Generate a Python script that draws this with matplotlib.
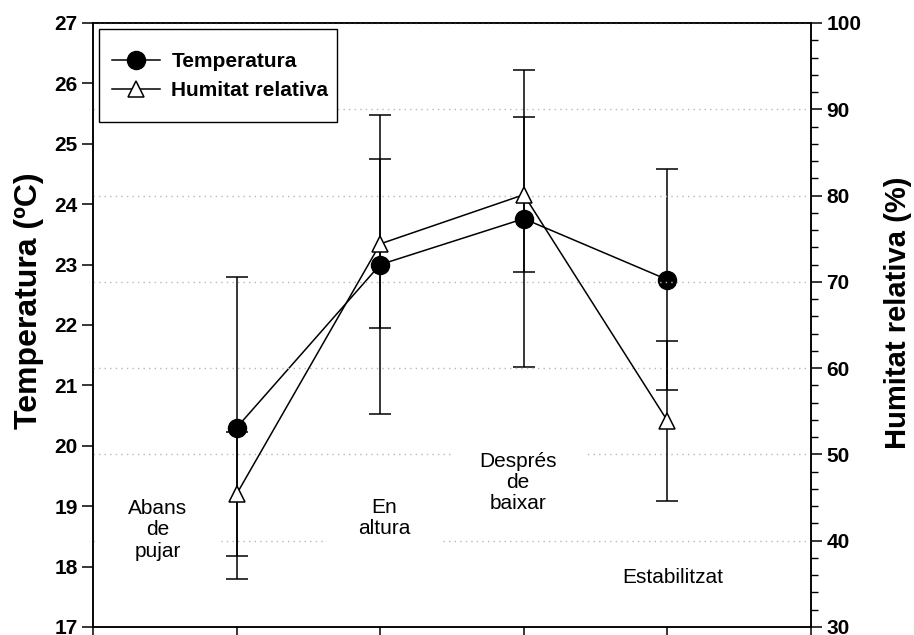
import matplotlib
matplotlib.use("Agg")
import matplotlib.pyplot as plt
from matplotlib.patches import Rectangle
from matplotlib.ticker import MultipleLocator

plt.rcParams['font.family'] = ['Liberation Sans', 'DejaVu Sans']

# dades
etapes = ["Abans\nde\npujar", "En\naltura", "Després\nde\nbaixar", "Estabilitzat"]
posicio = [1, 2, 3, 4]
temperatura = [20.3, 23.0, 23.76, 22.75]
temperatura_err = [2.5, 2.47, 2.46, 1.83]
humitat = [45.4, 74.4, 80.1, 53.9]
humitat_err = [7.2, 9.8, 9.0, 9.3]

# on va cada etiqueta (x, temperatura)
etiq_x = [0.45, 2.03, 2.96, 4.04]
etiq_y = [18.61, 18.81, 19.39, 17.82]
etiq_pad = [1.5, 1.5, 1.3, 0.9]

W, H = 914, 635
fig = plt.figure(figsize=(W / 100, H / 100), dpi=100)
ax = fig.add_axes([93 / W, 8 / H, 718 / W, 604 / H])
ax2 = ax.twinx()

eb_t = ax.errorbar(posicio, temperatura, yerr=temperatura_err, color="black", lw=1.1,
                   marker="o", ms=13, mfc="black", mec="black", capsize=8, capthick=1.1,
                   elinewidth=1.1, zorder=3)
eb_h = ax2.errorbar(posicio, humitat, yerr=humitat_err, color="black", lw=1.1,
                    marker="^", ms=12, mfc="white", mec="black", mew=1.1, capsize=8,
                    capthick=1.1, elinewidth=1.1, zorder=3)

ax.set_xlim(0, 5)
ax.set_ylim(17, 27)
ax2.set_ylim(30, 100)
ax.set_xticks(range(0, 6))
ax.set_xticklabels([])
ax.yaxis.set_major_locator(MultipleLocator(1))
ax2.yaxis.set_major_locator(MultipleLocator(10))
ax2.yaxis.set_minor_locator(MultipleLocator(2))

ax.tick_params(axis="both", direction="out", length=8, width=1.1, labelsize=15, pad=3)
ax2.tick_params(axis="y", which="major", direction="out", length=8, width=1.1, labelsize=15, pad=3)
ax2.tick_params(axis="y", which="minor", direction="out", length=5, width=1.0)
for l in ax.get_yticklabels() + ax2.get_yticklabels():
    l.set_fontweight("bold")

for a in (ax, ax2):
    for s in a.spines.values():
        s.set_linewidth(1.1)

ax2.set_axisbelow(True)
ax2.grid(axis="y", which="major", linestyle=(0, (1, 3)), color="0.72", lw=1.0)

for i in range(len(etapes)):
    ax2.text(etiq_x[i], etiq_y[i], etapes[i], transform=ax.transData, ha="center", va="center",
             fontsize=15, linespacing=1.15, zorder=1,
             bbox=dict(facecolor="white", edgecolor="none", boxstyle="square,pad=%.1f" % etiq_pad[i]))

ax.set_ylabel("Temperatura (ºC)", fontsize=23, fontweight="bold")
ax.yaxis.set_label_coords(-0.068, 0.541)
ax2.set_ylabel("Humitat relativa (%)", fontsize=21, fontweight="bold", rotation=90)
ax2.yaxis.set_label_coords(1.101, 0.52)

# marc de la llegenda
marc = Rectangle(((99 - 93) / 718, (627 - 122) / 604), 238 / 718, 93 / 604, transform=ax2.transAxes,
                 facecolor="white", edgecolor="black", lw=1.0, zorder=4)
ax2.add_patch(marc)
leg = ax2.legend([eb_t[0], eb_h[0]], ["Temperatura", "Humitat relativa"],
                 loc="upper left", bbox_to_anchor=((112 - 93) / 718, (627 - 52) / 604),
                 borderaxespad=0, borderpad=0, frameon=False, handlelength=2.3,
                 handletextpad=0.55, labelspacing=0.5, prop={"size": 15, "weight": "bold"})
leg.set_zorder(5)

fig.savefig("out.png", dpi=100)
